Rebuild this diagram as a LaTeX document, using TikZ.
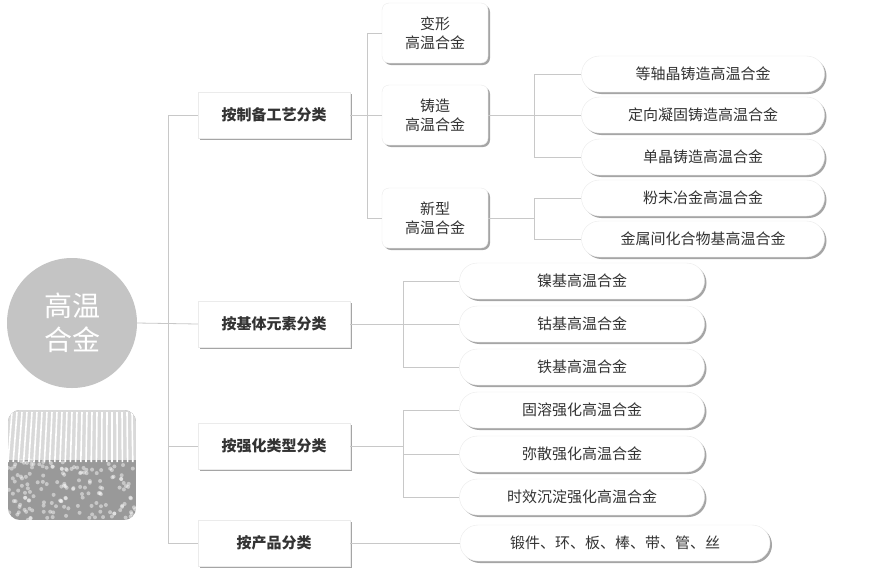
\documentclass[tikz,border=0pt]{standalone}
\usepackage{fontspec}
\setmainfont{Noto Sans CJK SC}
\usetikzlibrary{shadows}
\definecolor{txt}{HTML}{333333}
\definecolor{wire}{HTML}{C8C8C8}
\begin{document}
\begin{tikzpicture}[x=1pt,y=-1pt,
  catbox/.style={draw=black!8,fill=white,minimum width=152pt,minimum height=46pt,font=\fontsize{15}{17}\selectfont\bfseries,text=txt,drop shadow={shadow xshift=2pt,shadow yshift=-2pt,fill=black!50,opacity=.7}},
  subbox/.style={draw=black!8,fill=white,rounded corners=7pt,minimum width=106pt,minimum height=60pt,align=center,font=\fontsize{15}{19}\selectfont,text=txt,drop shadow={shadow xshift=2pt,shadow yshift=-2pt,fill=black!50,opacity=.7}},
  leaf/.style={draw=black!8,fill=white,rounded corners=18pt,minimum height=36pt,font=\fontsize{15}{17}\selectfont,text=txt,drop shadow={shadow xshift=2pt,shadow yshift=-2pt,fill=black!50,opacity=.7}},
  link/.style={draw=wire,line width=0.8pt}]
\useasboundingbox (0,0) rectangle (880,574);
\fill[white] (0,0) rectangle (880,574);
% root and photo
\node[circle,fill=black!23,minimum size=130pt,align=center,text=white,font=\fontsize{28}{34}\selectfont] (root) at (72,323) {高温\\合金};
\begin{scope}
\clip[rounded corners=12pt] (8,410) rectangle (136,520);
\fill[black!40] (8,410) rectangle (136,520);
\fill[black!15] (8,410) rectangle (136,460);
\foreach \i in {0,...,26} \draw[white,line width=1.6pt] (12+\i*5,412) -- (8+\i*5.2,462);
\pgfmathsetseed{7}
\foreach \i in {1,...,160} \fill[white,opacity=.45] (8+128*rnd,460+60*rnd) circle (2pt);
\end{scope}
% level 1
\node[catbox] (prep) at (274,115) {按制备工艺分类};
\node[catbox] (base) at (274,324) {按基体元素分类};
\node[catbox] (strg) at (274,446) {按强化类型分类};
\node[catbox] (prod) at (274,543) {按产品分类};
\coordinate (t1) at (168,115);
\coordinate (t4) at (168,543);
\draw[link] (t1) -- (t4);
\draw[link] (root.east) -- (base.west);
\foreach \n in {prep,strg,prod} \draw[link] (t1 |- \n) -- (\n.west);
% process
\node[subbox] (wrought) at (435,33) {变形\\高温合金};
\node[subbox] (cast) at (435,115) {铸造\\高温合金};
\node[subbox] (novel) at (435,218) {新型\\高温合金};
\coordinate (p1) at (367,33);
\coordinate (p3) at (367,218);
\draw[link] (p1) -- (p3);
\draw[link] (prep.east) -- (cast.west);
\foreach \n in {wrought,novel} \draw[link] (p1 |- \n) -- (\n.west);
\node[leaf,minimum width=243pt] (eqx) at (703,74) {等轴晶铸造高温合金};
\node[leaf,minimum width=243pt] (ds) at (703,115) {定向凝固铸造高温合金};
\node[leaf,minimum width=243pt] (sx) at (703,157) {单晶铸造高温合金};
\node[leaf,minimum width=243pt] (pm) at (703,198) {粉末冶金高温合金};
\node[leaf,minimum width=243pt] (imc) at (703,239) {金属间化合物基高温合金};
\coordinate (c1) at (534,74);
\coordinate (c3) at (534,157);
\draw[link] (c1) -- (c3);
\draw[link] (cast.east) -- (ds.west);
\foreach \n in {eqx,sx} \draw[link] (c1 |- \n) -- (\n.west);
\coordinate (n1) at (534,198);
\coordinate (n2) at (534,239);
\draw[link] (n1) -- (n2);
\draw[link] (novel.east) -- (n1 |- novel);
\foreach \n in {pm,imc} \draw[link] (n1 |- \n) -- (\n.west);
% matrix
\node[leaf,minimum width=245pt] (ni) at (582,281) {镍基高温合金};
\node[leaf,minimum width=245pt] (co) at (582,324) {钴基高温合金};
\node[leaf,minimum width=245pt] (fe) at (582,367) {铁基高温合金};
\coordinate (b1) at (403,281);
\coordinate (b3) at (403,367);
\draw[link] (b1) -- (b3);
\draw[link] (base.east) -- (co.west);
\foreach \n in {ni,fe} \draw[link] (b1 |- \n) -- (\n.west);
% strengthening
\node[leaf,minimum width=245pt] (ss) at (582,410) {固溶强化高温合金};
\node[leaf,minimum width=245pt] (ods) at (582,454) {弥散强化高温合金};
\node[leaf,minimum width=245pt] (age) at (582,497) {时效沉淀强化高温合金};
\coordinate (s1) at (403,410);
\coordinate (s3) at (403,497);
\draw[link] (s1) -- (s3);
\draw[link] (strg.east) -- (s1 |- strg);
\foreach \n in {ss,ods,age} \draw[link] (s1 |- \n) -- (\n.west);
% product
\node[leaf,minimum width=310pt] (form) at (615,543) {锻件、环、板、棒、带、管、丝};
\draw[link] (prod.east) -- (form.west);
\end{tikzpicture}
\end{document}
